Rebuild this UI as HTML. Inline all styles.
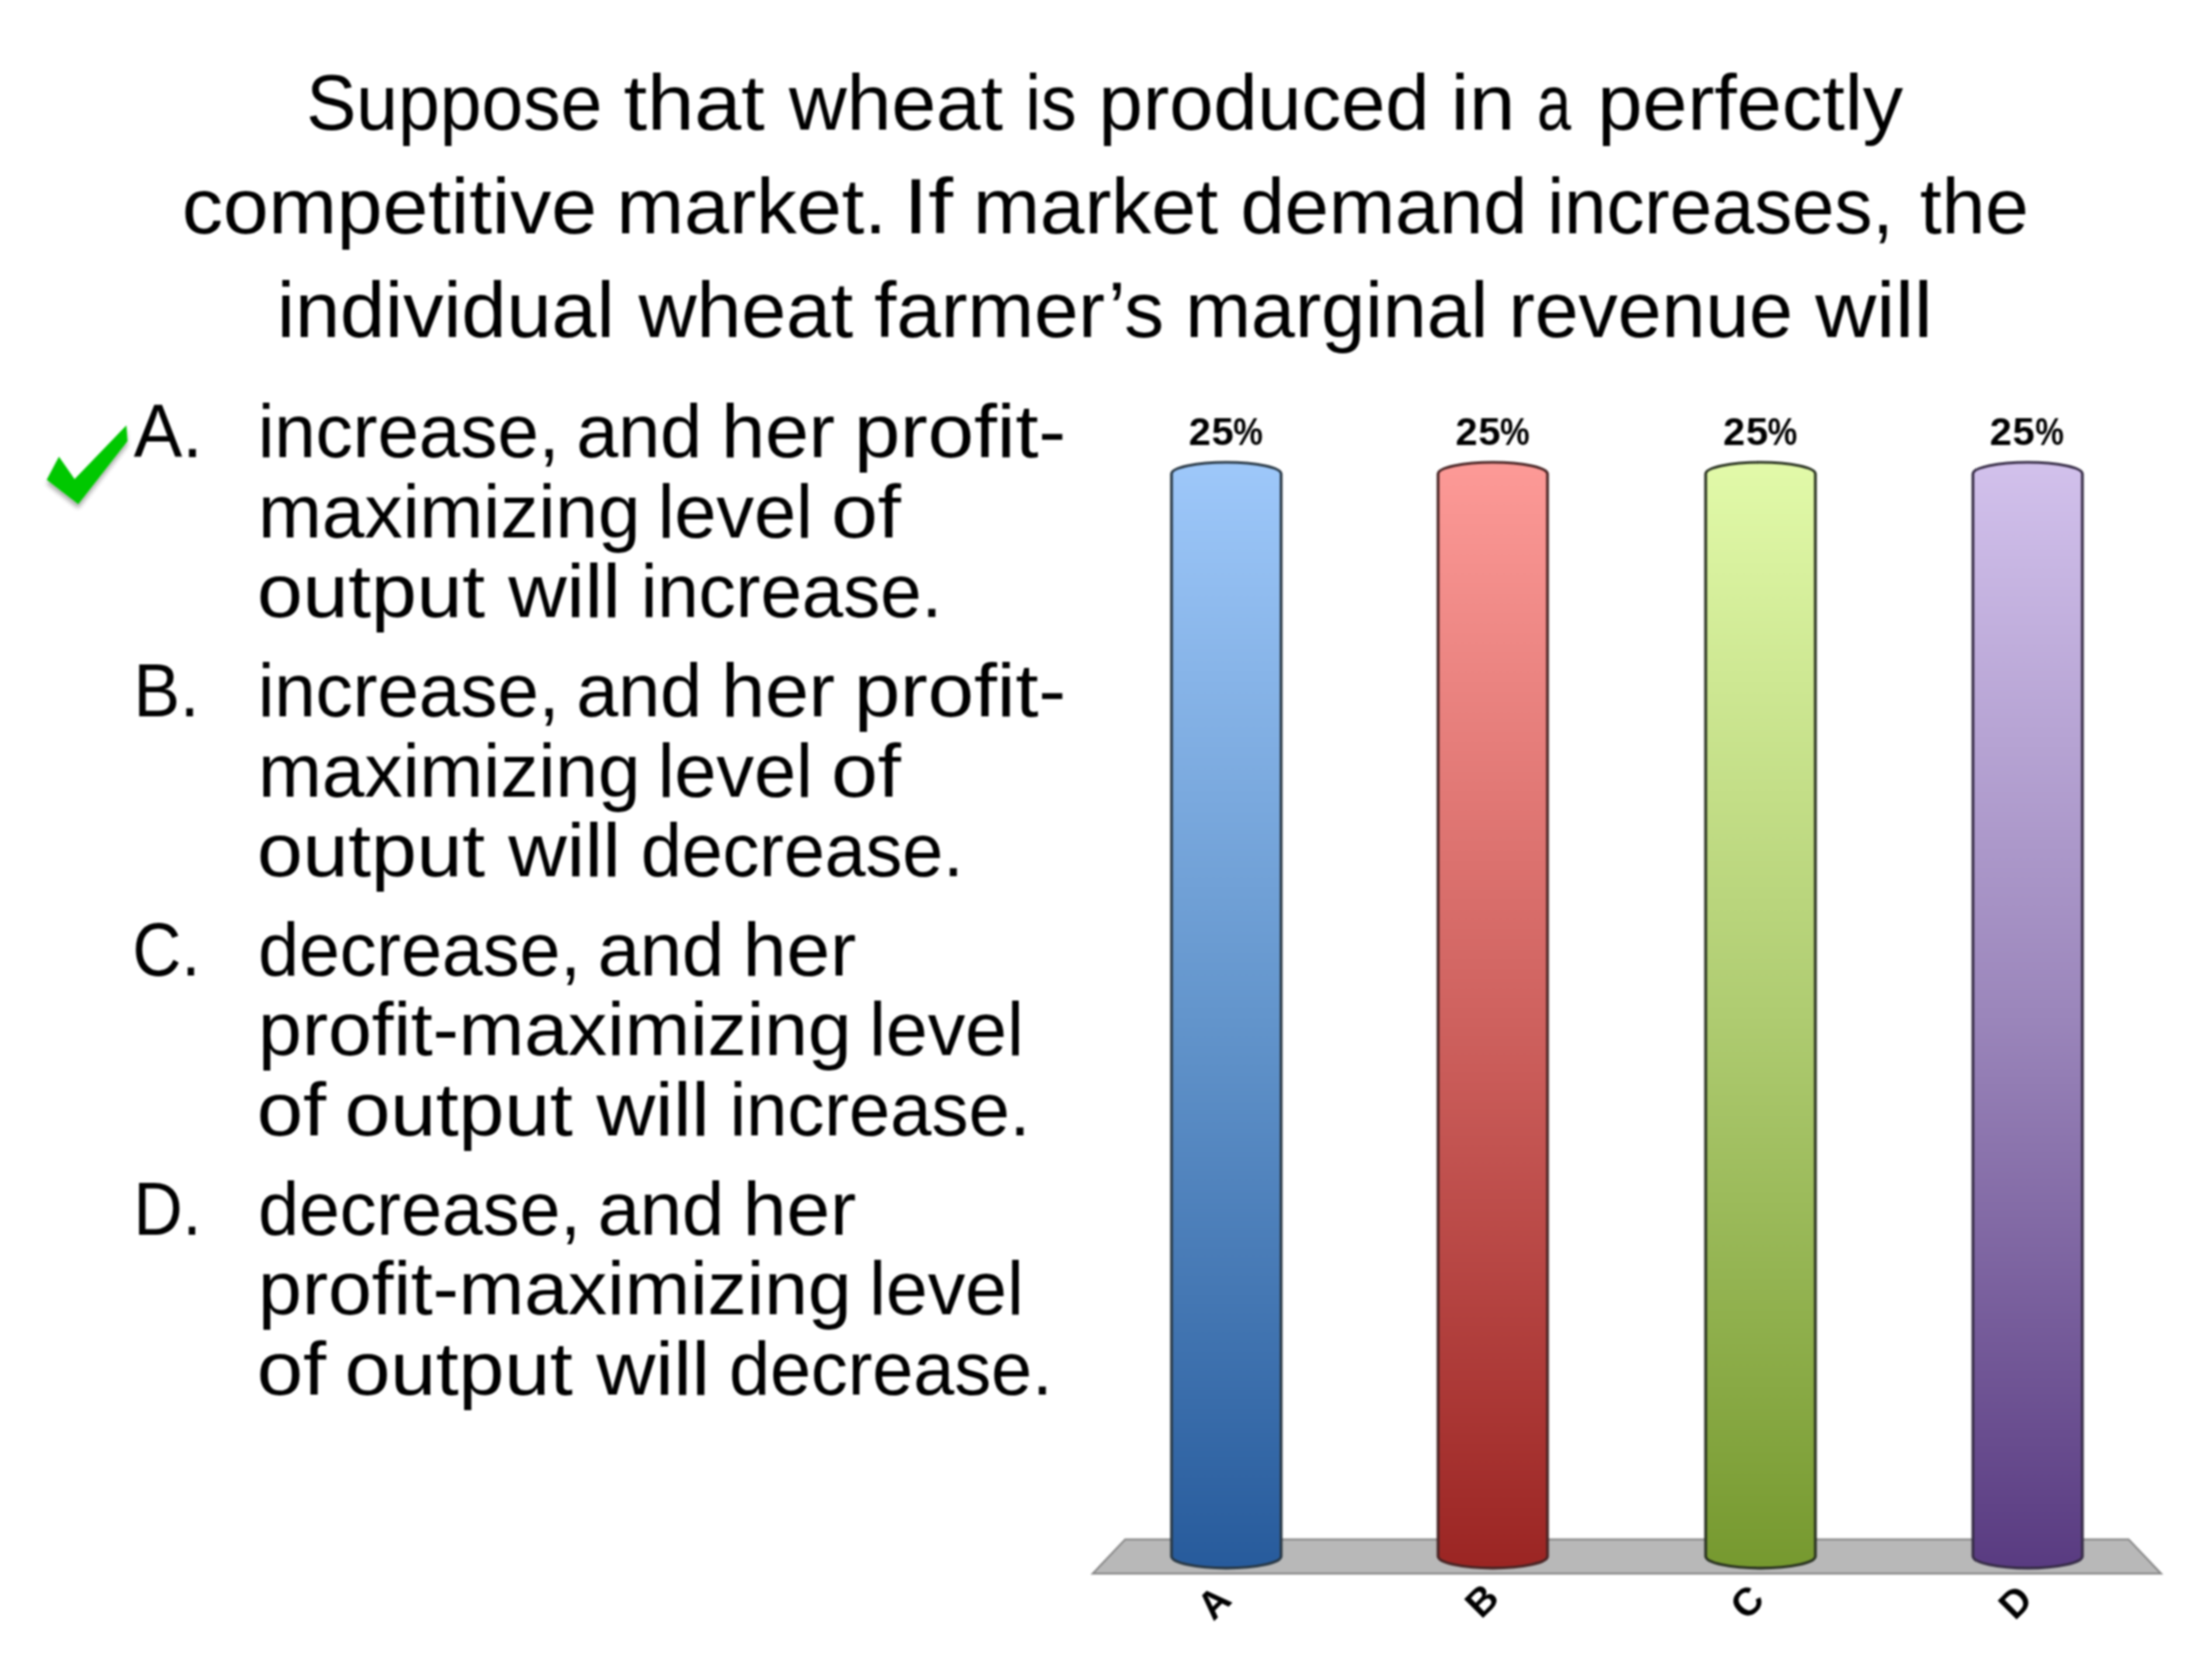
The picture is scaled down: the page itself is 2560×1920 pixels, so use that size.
<!DOCTYPE html>
<html><head><meta charset="utf-8"><title>slide</title>
<style>
html,body{margin:0;padding:0;background:#fff;}
body{width:2560px;height:1920px;overflow:hidden;position:relative;}
svg{position:absolute;left:0;top:0;display:block;filter:blur(1px);}
.t{font-family:"Liberation Sans",sans-serif;fill:#000;}
.b{font-family:"Liberation Sans",sans-serif;font-weight:bold;fill:#000;}
</style></head><body>
<svg width="2560" height="1920" viewBox="0 0 2560 1920">
<defs>
<linearGradient id="g0" gradientUnits="userSpaceOnUse" x1="0" y1="535.0" x2="0" y2="1814.9"><stop offset="0" stop-color="#9ec8fa"/><stop offset="0.5" stop-color="#6395cc"/><stop offset="1" stop-color="#275b9c"/></linearGradient>
<linearGradient id="g1" gradientUnits="userSpaceOnUse" x1="0" y1="535.0" x2="0" y2="1814.9"><stop offset="0" stop-color="#fd9a97"/><stop offset="0.5" stop-color="#cf625f"/><stop offset="1" stop-color="#9b2523"/></linearGradient>
<linearGradient id="g2" gradientUnits="userSpaceOnUse" x1="0" y1="535.0" x2="0" y2="1814.9"><stop offset="0" stop-color="#e2faa9"/><stop offset="0.5" stop-color="#afcc71"/><stop offset="1" stop-color="#76992f"/></linearGradient>
<linearGradient id="g3" gradientUnits="userSpaceOnUse" x1="0" y1="535.0" x2="0" y2="1814.9"><stop offset="0" stop-color="#d2c1ec"/><stop offset="0.5" stop-color="#9b86bb"/><stop offset="1" stop-color="#593b81"/></linearGradient>
<filter id="sh" x="-30%" y="-30%" width="160%" height="160%"><feGaussianBlur in="SourceAlpha" stdDeviation="2.5"/><feOffset dx="0" dy="4.5" result="o"/><feComponentTransfer><feFuncA type="linear" slope="0.32"/></feComponentTransfer><feMerge><feMergeNode/><feMergeNode in="SourceGraphic"/></feMerge></filter>
</defs>
<text class="t" x="354.49" y="150.00" font-size="90" textLength="342.61" lengthAdjust="spacingAndGlyphs">Suppose</text>
<text class="t" x="721.77" y="150.00" font-size="90" textLength="163.25" lengthAdjust="spacingAndGlyphs">that</text>
<text class="t" x="913.10" y="150.00" font-size="90" textLength="247.60" lengthAdjust="spacingAndGlyphs">wheat</text>
<text class="t" x="1186.44" y="150.00" font-size="90" textLength="59.63" lengthAdjust="spacingAndGlyphs">is</text>
<text class="t" x="1271.62" y="150.00" font-size="90" textLength="382.68" lengthAdjust="spacingAndGlyphs">produced</text>
<text class="t" x="1678.94" y="150.00" font-size="90" textLength="74.68" lengthAdjust="spacingAndGlyphs">in</text>
<text class="t" x="1778.79" y="150.00" font-size="90" textLength="39.52" lengthAdjust="spacingAndGlyphs">a</text>
<text class="t" x="1848.78" y="150.00" font-size="90" textLength="353.84" lengthAdjust="spacingAndGlyphs">perfectly</text>
<text class="t" x="210.42" y="270.00" font-size="90" textLength="480.36" lengthAdjust="spacingAndGlyphs">competitive</text>
<text class="t" x="713.58" y="270.00" font-size="90" textLength="312.75" lengthAdjust="spacingAndGlyphs">market.</text>
<text class="t" x="1045.62" y="270.00" font-size="90" textLength="57.53" lengthAdjust="spacingAndGlyphs">If</text>
<text class="t" x="1126.27" y="270.00" font-size="90" textLength="283.54" lengthAdjust="spacingAndGlyphs">market</text>
<text class="t" x="1435.76" y="270.00" font-size="90" textLength="331.84" lengthAdjust="spacingAndGlyphs">demand</text>
<text class="t" x="1790.78" y="270.00" font-size="90" textLength="400.59" lengthAdjust="spacingAndGlyphs">increases,</text>
<text class="t" x="2222.14" y="270.00" font-size="90" textLength="125.85" lengthAdjust="spacingAndGlyphs">the</text>
<text class="t" x="320.57" y="390.00" font-size="90" textLength="390.64" lengthAdjust="spacingAndGlyphs">individual</text>
<text class="t" x="738.90" y="390.00" font-size="90" textLength="248.52" lengthAdjust="spacingAndGlyphs">wheat</text>
<text class="t" x="1011.88" y="390.00" font-size="90" textLength="335.38" lengthAdjust="spacingAndGlyphs">farmer’s</text>
<text class="t" x="1371.67" y="390.00" font-size="90" textLength="350.66" lengthAdjust="spacingAndGlyphs">marginal</text>
<text class="t" x="1745.90" y="390.00" font-size="90" textLength="329.02" lengthAdjust="spacingAndGlyphs">revenue</text>
<text class="t" x="2100.76" y="390.00" font-size="90" textLength="135.98" lengthAdjust="spacingAndGlyphs">will</text>
<text class="t" x="154.72" y="529.20" font-size="87" textLength="79.66" lengthAdjust="spacingAndGlyphs">A.</text>
<text class="t" x="154.43" y="829.20" font-size="87" textLength="76.36" lengthAdjust="spacingAndGlyphs">B.</text>
<text class="t" x="153.33" y="1128.60" font-size="87" textLength="78.31" lengthAdjust="spacingAndGlyphs">C.</text>
<text class="t" x="154.51" y="1428.60" font-size="87" textLength="78.73" lengthAdjust="spacingAndGlyphs">D.</text>
<text class="t" x="298.39" y="529.20" font-size="87" textLength="349.01" lengthAdjust="spacingAndGlyphs">increase,</text>
<text class="t" x="666.95" y="529.20" font-size="87" textLength="145.65" lengthAdjust="spacingAndGlyphs">and</text>
<text class="t" x="834.83" y="529.20" font-size="87" textLength="131.60" lengthAdjust="spacingAndGlyphs">her</text>
<text class="t" x="988.52" y="529.20" font-size="87" textLength="245.24" lengthAdjust="spacingAndGlyphs">profit-</text>
<text class="t" x="298.83" y="621.70" font-size="87" textLength="442.34" lengthAdjust="spacingAndGlyphs">maximizing</text>
<text class="t" x="761.13" y="621.70" font-size="87" textLength="179.56" lengthAdjust="spacingAndGlyphs">level</text>
<text class="t" x="961.91" y="621.70" font-size="87" textLength="80.87" lengthAdjust="spacingAndGlyphs">of</text>
<text class="t" x="297.42" y="714.00" font-size="87" textLength="264.00" lengthAdjust="spacingAndGlyphs">output</text>
<text class="t" x="588.17" y="714.00" font-size="87" textLength="130.16" lengthAdjust="spacingAndGlyphs">will</text>
<text class="t" x="741.68" y="714.00" font-size="87" textLength="348.84" lengthAdjust="spacingAndGlyphs">increase.</text>
<text class="t" x="298.39" y="829.20" font-size="87" textLength="349.01" lengthAdjust="spacingAndGlyphs">increase,</text>
<text class="t" x="666.95" y="829.20" font-size="87" textLength="145.65" lengthAdjust="spacingAndGlyphs">and</text>
<text class="t" x="834.83" y="829.20" font-size="87" textLength="131.60" lengthAdjust="spacingAndGlyphs">her</text>
<text class="t" x="988.52" y="829.20" font-size="87" textLength="245.24" lengthAdjust="spacingAndGlyphs">profit-</text>
<text class="t" x="298.83" y="921.70" font-size="87" textLength="442.34" lengthAdjust="spacingAndGlyphs">maximizing</text>
<text class="t" x="761.13" y="921.70" font-size="87" textLength="179.56" lengthAdjust="spacingAndGlyphs">level</text>
<text class="t" x="961.91" y="921.70" font-size="87" textLength="80.87" lengthAdjust="spacingAndGlyphs">of</text>
<text class="t" x="297.42" y="1014.00" font-size="87" textLength="264.00" lengthAdjust="spacingAndGlyphs">output</text>
<text class="t" x="588.17" y="1014.00" font-size="87" textLength="130.27" lengthAdjust="spacingAndGlyphs">will</text>
<text class="t" x="741.80" y="1014.00" font-size="87" textLength="373.34" lengthAdjust="spacingAndGlyphs">decrease.</text>
<text class="t" x="298.80" y="1128.60" font-size="87" textLength="373.34" lengthAdjust="spacingAndGlyphs">decrease,</text>
<text class="t" x="691.66" y="1128.60" font-size="87" textLength="146.53" lengthAdjust="spacingAndGlyphs">and</text>
<text class="t" x="859.83" y="1128.60" font-size="87" textLength="131.07" lengthAdjust="spacingAndGlyphs">her</text>
<text class="t" x="298.89" y="1221.00" font-size="87" textLength="686.63" lengthAdjust="spacingAndGlyphs">profit-maximizing</text>
<text class="t" x="1005.99" y="1221.00" font-size="87" textLength="178.78" lengthAdjust="spacingAndGlyphs">level</text>
<text class="t" x="297.29" y="1313.50" font-size="87" textLength="80.13" lengthAdjust="spacingAndGlyphs">of</text>
<text class="t" x="398.93" y="1313.50" font-size="87" textLength="263.88" lengthAdjust="spacingAndGlyphs">output</text>
<text class="t" x="690.17" y="1313.50" font-size="87" textLength="131.05" lengthAdjust="spacingAndGlyphs">will</text>
<text class="t" x="844.46" y="1313.50" font-size="87" textLength="347.94" lengthAdjust="spacingAndGlyphs">increase.</text>
<text class="t" x="298.80" y="1428.60" font-size="87" textLength="373.34" lengthAdjust="spacingAndGlyphs">decrease,</text>
<text class="t" x="691.66" y="1428.60" font-size="87" textLength="146.53" lengthAdjust="spacingAndGlyphs">and</text>
<text class="t" x="859.83" y="1428.60" font-size="87" textLength="131.07" lengthAdjust="spacingAndGlyphs">her</text>
<text class="t" x="298.89" y="1521.00" font-size="87" textLength="686.63" lengthAdjust="spacingAndGlyphs">profit-maximizing</text>
<text class="t" x="1005.99" y="1521.00" font-size="87" textLength="178.78" lengthAdjust="spacingAndGlyphs">level</text>
<text class="t" x="297.29" y="1613.50" font-size="87" textLength="80.13" lengthAdjust="spacingAndGlyphs">of</text>
<text class="t" x="398.93" y="1613.50" font-size="87" textLength="263.88" lengthAdjust="spacingAndGlyphs">output</text>
<text class="t" x="690.16" y="1613.50" font-size="87" textLength="131.48" lengthAdjust="spacingAndGlyphs">will</text>
<text class="t" x="843.80" y="1613.50" font-size="87" textLength="374.34" lengthAdjust="spacingAndGlyphs">decrease.</text>
<polygon filter="url(#sh)" fill="#00c800" points="146.3,492.3 147.6,510.5 90.6,583.4 54.1,555.2 68.2,528.5 86.3,554.5"/>
<polygon fill="#b8b8b8" stroke="#888888" stroke-width="2.2" points="1302.2,1781.6 2463.5,1781.6 2501.1,1821.2 1264.6,1821.2"/>
<path d="M1355.80,548.50 A63.45,13.5 0 0 1 1482.70,548.50 L1482.70,1800.90 A63.45,14.0 0 0 1 1355.80,1800.90 Z" fill="url(#g0)" stroke="#283845" stroke-width="3.2"/>
<path d="M1664.30,548.50 A63.35,13.5 0 0 1 1791.00,548.50 L1791.00,1800.90 A63.35,14.0 0 0 1 1664.30,1800.90 Z" fill="url(#g1)" stroke="#482424" stroke-width="3.2"/>
<path d="M1974.00,548.50 A63.50,13.5 0 0 1 2101.00,548.50 L2101.00,1800.90 A63.50,14.0 0 0 1 1974.00,1800.90 Z" fill="url(#g2)" stroke="#283120" stroke-width="3.2"/>
<path d="M2283.30,548.50 A63.35,13.5 0 0 1 2410.00,548.50 L2410.00,1800.90 A63.35,14.0 0 0 1 2283.30,1800.90 Z" fill="url(#g3)" stroke="#362c46" stroke-width="3.2"/>
<text class="b" x="1375.73" y="515.00" font-size="45" textLength="25.55" lengthAdjust="spacingAndGlyphs">2</text>
<text class="b" x="1402.21" y="515.00" font-size="45" textLength="25.49" lengthAdjust="spacingAndGlyphs">5</text>
<text class="b" x="1427.37" y="515.00" font-size="45" textLength="34.26" lengthAdjust="spacingAndGlyphs">%</text>
<text class="b" x="1684.50" y="515.00" font-size="45" textLength="25.49" lengthAdjust="spacingAndGlyphs">2</text>
<text class="b" x="1710.96" y="515.00" font-size="45" textLength="25.49" lengthAdjust="spacingAndGlyphs">5</text>
<text class="b" x="1736.11" y="515.00" font-size="45" textLength="34.26" lengthAdjust="spacingAndGlyphs">%</text>
<text class="b" x="1994.34" y="515.00" font-size="45" textLength="25.32" lengthAdjust="spacingAndGlyphs">2</text>
<text class="b" x="2020.77" y="515.00" font-size="45" textLength="25.55" lengthAdjust="spacingAndGlyphs">5</text>
<text class="b" x="2045.85" y="515.00" font-size="45" textLength="34.22" lengthAdjust="spacingAndGlyphs">%</text>
<text class="b" x="2302.82" y="515.00" font-size="45" textLength="25.55" lengthAdjust="spacingAndGlyphs">2</text>
<text class="b" x="2329.27" y="515.00" font-size="45" textLength="25.49" lengthAdjust="spacingAndGlyphs">5</text>
<text class="b" x="2355.45" y="515.00" font-size="45" textLength="33.09" lengthAdjust="spacingAndGlyphs">%</text>
<text class="b" font-size="45" text-anchor="middle" dominant-baseline="central" transform="translate(1404.80,1854.60) rotate(-45)">A</text>
<text class="b" font-size="45" text-anchor="middle" dominant-baseline="central" transform="translate(1714.90,1852.20) rotate(-45)">B</text>
<text class="b" font-size="45" text-anchor="middle" dominant-baseline="central" transform="translate(2021.90,1854.10) rotate(-45)">C</text>
<text class="b" font-size="45" text-anchor="middle" dominant-baseline="central" transform="translate(2332.40,1854.10) rotate(-45)">D</text>
</svg>
</body></html>
